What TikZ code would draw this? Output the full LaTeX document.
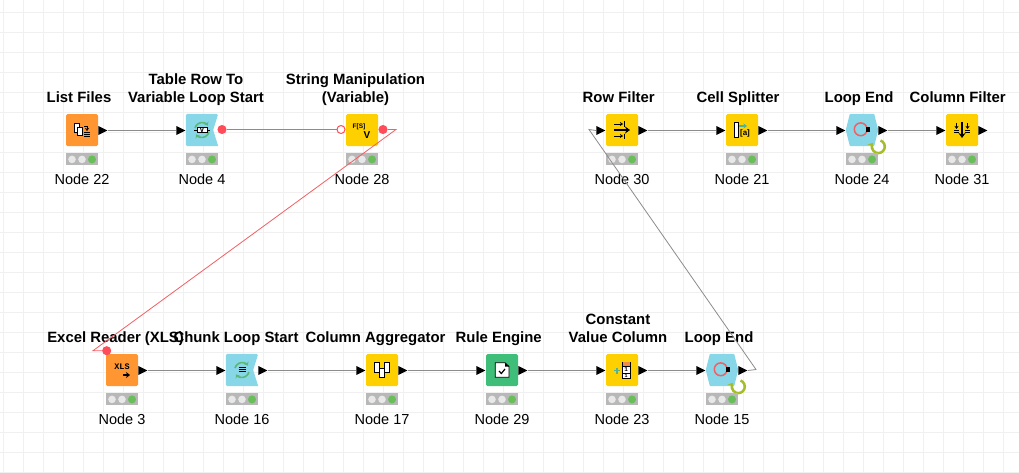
\documentclass[tikz,border=0pt]{standalone}
\usepackage{fontspec}
\setmainfont{Liberation Sans}
\setmonofont{Liberation Mono}
\usepackage{xcolor}
\usetikzlibrary{arrows.meta,positioning,shapes.geometric,calc}
\definecolor{sheet}{RGB}{240,240,240}
\definecolor{source}{RGB}{255,150,50}
\definecolor{manip}{RGB}{255,208,0}
\definecolor{loopblue}{RGB}{136,215,232}
\definecolor{rule}{RGB}{62,190,120}
\definecolor{lampgrey}{RGB}{184,184,184}
\definecolor{lampoff}{RGB}{232,232,232}
\definecolor{lampgreen}{RGB}{104,190,88}
\definecolor{flowvar}{RGB}{255,76,90}
\definecolor{flowline}{RGB}{240,96,100}
\definecolor{dataline}{RGB}{140,140,140}
\definecolor{teal}{RGB}{80,180,150}
\definecolor{spin}{RGB}{92,184,122}
\definecolor{redo}{RGB}{165,188,43}
\definecolor{headcell}{RGB}{240,140,70}

% traffic light, title and caption hung on a node body; #4 nudges the title
\newcommand{\furnish}[4]{%
  \node[nodetitle, above=11.3pt of #1, xshift=#4pt] (#1-title) {#2};
  \node[lights, below=7pt of #1] (#1-lights) {};
  \fill[lampoff] ([xshift=-10pt]#1-lights.center) circle (3.8pt) (#1-lights.center) circle (3.8pt);
  \fill[lampgreen] ([xshift=10pt]#1-lights.center) circle (4pt);
  \node[nodename, below=9pt of #1-lights] (#1-name) {#3};
}
% data ports
\newcommand{\inport}[1]{\node[porttip, anchor=apex] (#1-in) at ([yshift=-.5pt]#1.west) {};}
\newcommand{\outport}[1]{\node[porttip, anchor=lower side] (#1-out) at ([yshift=-.5pt]#1.east) {};}
% body outlines of the loop nodes
\newcommand{\loopstart}[1]{\fill[loopblue, rounded corners=1.5pt] (#1.north west) -- (#1.north east) [sharp corners] -- ([xshift=-5pt]#1.east) -- (#1.south east) [rounded corners=1.5pt] -- (#1.south west) -- cycle;}
\newcommand{\loopend}[1]{%
  \fill[loopblue, rounded corners=.8pt] (#1.west) -- ([xshift=4pt]#1.north west) -- ([xshift=-4pt]#1.north east) -- (#1.east) -- ([xshift=-4pt]#1.south east) -- ([xshift=4pt]#1.south west) -- cycle;
  \begin{scope}[shift={(#1)}]
    \draw[flowline, line width=1.5pt] (-1.3,-.7) circle (6.4pt);
    \fill[black] (3.8,-2.7) rectangle (8,1.5);
    \draw[redo, line width=2.5pt, -{Stealth[length=4.5pt,width=7pt]}] (18.5,10.5) arc[start angle=70, end angle=-215, radius=6.5pt];
  \end{scope}
}
\newcommand{\spinner}{%
  \draw[spin, line width=1.6pt, -{Stealth[length=3.5pt,width=5pt]}] (-7,-2) arc[start angle=165, end angle=35, radius=7.4pt];
  \draw[spin, line width=1.6pt, -{Stealth[length=3.5pt,width=5pt]}] (7,2) arc[start angle=-15, end angle=-145, radius=7.4pt];
}

\begin{document}
\begin{tikzpicture}[
  x=1pt, y=-1pt,
  font=\fontsize{14.5}{18}\selectfont,
  body/.style={rectangle, inner sep=0pt, minimum width=32pt, minimum height=32pt},
  solid/.style={body, fill=#1, rounded corners=1.5pt},
  nodetitle/.style={font=\fontsize{14.9}{18}\selectfont\bfseries, align=center, inner sep=0pt, text depth=0pt},
  nodename/.style={inner sep=0pt, text height=10pt, text depth=0pt},
  lights/.style={rectangle, fill=lampgrey, inner sep=0pt, minimum width=32pt, minimum height=12pt},
  porttip/.style={isosceles triangle, isosceles triangle stretches, fill=black, inner sep=0pt, minimum width=9pt, minimum height=9pt},
  varport/.style={circle, draw=flowvar, line width=1pt, inner sep=0pt, minimum size=8pt},
  dataflow/.style={dataline, line width=.8pt},
  varflow/.style={flowline, line width=.8pt},
  icon/.style={draw=black, fill=white, line width=.8pt},
  tinytext/.style={inner sep=0pt, font=\fontsize{#1}{#1}\selectfont\ttfamily\bfseries},
  tinysans/.style={inner sep=0pt, font=\fontsize{#1}{#1}\selectfont\bfseries},
  tip/.style={-{Stealth[length=3pt,width=4pt]}, line width=.8pt},
]
\useasboundingbox (0,0) rectangle (1019,472);
\fill[white] (0,0) rectangle (1019,472);
\draw[sheet, line width=1pt, shift={(3,12)}] (-3,-12) grid[step=20pt] (1016,460);

% upper row
\node[solid=source] (n22) at (82,130) {};
\node[body] (n4) at (202,130) {};
\loopstart{n4}
\node[solid=manip] (n28) at (362,130) {};
\node[solid=manip] (n30) at (622,130) {};
\node[solid=manip] (n21) at (742,130) {};
\node[body] (n24) at (862,130) {};
\loopend{n24}
\node[solid=manip] (n31) at (962,130) {};
% lower row
\node[solid=source] (n3) at (122,370) {};
\node[body] (n16) at (242,370) {};
\loopstart{n16}
\node[solid=manip] (n17) at (382,370) {};
\node[solid=rule] (n29) at (502,370) {};
\node[solid=manip] (n23) at (622,370) {};
\node[body] (n15) at (722,370) {};
\loopend{n15}

\furnish{n22}{List Files}{Node 22}{-3}
\furnish{n4}{Table Row To\\Variable Loop Start}{Node 4}{-6}
\furnish{n28}{String Manipulation\\(Variable)}{Node 28}{-6.5}
\furnish{n30}{Row Filter}{Node 30}{-3.3}
\furnish{n21}{Cell Splitter}{Node 21}{-4}
\furnish{n24}{Loop End}{Node 24}{-3}
\furnish{n31}{Column Filter}{Node 31}{-4.3}
\furnish{n3}{Excel Reader (XLS)}{Node 3}{-6.4}
\furnish{n16}{Chunk Loop Start}{Node 16}{-6}
\furnish{n17}{Column Aggregator}{Node 17}{-6.5}
\furnish{n29}{Rule Engine}{Node 29}{-3.3}
\furnish{n23}{Constant\\Value Column}{Node 23}{-4}
\furnish{n15}{Loop End}{Node 15}{-3}

% icons
\begin{scope}[shift={(n22)}]
  \draw[icon] (-7.5,-6.5) rectangle (-2.5,2);
  \draw[icon] (-5,-3) rectangle (0,5);
  \draw[tip] (2,-3.5) -- (5,-3.5) -- (5,1);
  \draw[line width=.7pt] (1.5,2.5) -- (8,2.5) (1.5,4.5) -- (8,4.5) (1.5,6.5) -- (8,6.5);
\end{scope}
\begin{scope}[shift={(n4)}]
  \spinner
  \draw[icon] (-5,-2.5) rectangle (5,2);
  \draw[line width=.8pt] (-8,0) -- (-5,0) (5,0) -- (8,0);
  \node[tinytext=7] (v4) at (0,-.3) {V};
\end{scope}
\begin{scope}[shift={(n28)}]
  \node[tinysans=6.5] (fs28) at (-3,-3.5) {F[S]};
  \node[tinysans=10] (v28) at (5,5) {V};
\end{scope}
\begin{scope}[shift={(n30)}]
  \draw[line width=1.2pt, -{Stealth[length=5pt,width=7pt]}] (-8,0) -- (8,0);
  \draw[tip] (-8,-6) -- (1,-6);
  \draw[line width=.8pt] (2.5,-9) -- (2.5,-3.5);
  \draw[tip] (-8,6) -- (1,6);
  \draw[line width=.8pt] (2.5,3.5) -- (2.5,8.5);
\end{scope}
\begin{scope}[shift={(n21)}]
  \draw[icon] (-8,-8) rectangle (-3.7,7.5);
  \draw[teal, line width=1.2pt, -{Stealth[length=3.5pt,width=5pt]}] (-3.5,-4) -- (5,-4);
  \node[tinysans=8] (a21) at (3,3.5) {[a]};
\end{scope}
\begin{scope}[shift={(n31)}]
  \draw[line width=1.2pt, -{Stealth[length=5pt,width=7pt]}] (0,-8) -- (0,8);
  \draw[tip] (-5.5,-7) -- (-5.5,-1);
  \draw[tip] (5.5,-7) -- (5.5,-1);
  \draw[line width=.8pt] (-8,0) -- (-3,0) (3,0) -- (8,0) (-8,2) -- (-3,2) (3,2) -- (8,2);
\end{scope}
\begin{scope}[shift={(n3)}]
  \node[tinytext=8.5] (xls3) at (0,-3.5) {XLS};
  \draw[line width=1.3pt, -{Stealth[length=4pt,width=6pt]}] (1,5) -- (8,5);
\end{scope}
\begin{scope}[shift={(n16)}]
  \spinner
  \draw[line width=.8pt] (-3.5,-2.5) -- (3.5,-2.5) (-3.5,-.5) -- (3.5,-.5) (-3.5,1.5) -- (3.5,1.5);
\end{scope}
\begin{scope}[shift={(n17)}]
  \draw[icon] (-7.5,-7.3) rectangle (-2.5,2.3);
  \draw[icon] (2.5,-7.3) rectangle (7.5,2.3);
  \draw[icon] (-2.5,-2) rectangle (2.5,7.3);
\end{scope}
\begin{scope}[shift={(n29)}]
  \draw[icon] (-6.7,-7.3) -- (3,-7.3) -- (7,-3.5) -- (7,7.3) -- (-6.7,7.3) -- cycle;
  \fill[black] (3,-7.3) -- (7,-3.5) -- (3,-3.5) -- cycle;
  \draw[line width=1.2pt] (-3,1) -- (-.7,3.5) -- (3,-1);
\end{scope}
\begin{scope}[shift={(n23)}]
  \draw[teal, line width=1.2pt] (-8,.5) -- (-2,.5) (-5,-2.5) -- (-5,3.5);
  \draw[icon] (.3,-8) rectangle (8,8);
  \fill[headcell] (.7,-7.6) rectangle (7.6,-4);
  \draw[line width=.8pt] (.3,-4) -- (8,-4) (.3,3.3) -- (8,3.3);
  \node[tinytext=6] (c23) at (4.2,-.3) {1};
  \node[tinytext=5] (d23) at (4.2,5.8) {1};
\end{scope}

% ports
\outport{n22}
\inport{n4}
\node[varport, fill=flowvar] (n4-var) at (222,129.5) {};
\node[varport, fill=white] (n28-varin) at (341,129.5) {};
\node[varport, fill=flowvar] (n28-var) at (383,129.5) {};
\inport{n30}
\outport{n30}
\inport{n21}
\outport{n21}
\inport{n24}
\outport{n24}
\inport{n31}
\outport{n31}
\node[varport, fill=flowvar] (n3-var) at (106.7,350.7) {};
\outport{n3}
\inport{n16}
\outport{n16}
\inport{n17}
\outport{n17}
\inport{n29}
\outport{n29}
\inport{n23}
\outport{n23}
\inport{n15}
\outport{n15}

% free bends of the two long connections
\coordinate (bendA) at (396,129.5);
\coordinate (bendB) at (93,350.7);
\coordinate (bendC) at (756,369.5);
\coordinate (bendD) at (589,129.5);

\draw[dataflow] (n22-out.apex) -- (n4-in.lower side);
\draw[varflow] (n4-var.east) -- (n28-varin.west);
\draw[varflow] (n28-var.east) -- (bendA) -- (bendB) -- (n3-var.west);
\draw[dataflow] (n30-out.apex) -- (n21-in.lower side);
\draw[dataflow] (n21-out.apex) -- (n24-in.lower side);
\draw[dataflow] (n24-out.apex) -- (n31-in.lower side);
\draw[dataflow] (n3-out.apex) -- (n16-in.lower side);
\draw[dataflow] (n16-out.apex) -- (n17-in.lower side);
\draw[dataflow] (n17-out.apex) -- (n29-in.lower side);
\draw[dataflow] (n29-out.apex) -- (n23-in.lower side);
\draw[dataflow] (n23-out.apex) -- (n15-in.lower side);
\draw[dataflow] (n15-out.apex) -- (bendC) -- (bendD) -- (n30-in.lower side);
\end{tikzpicture}
\end{document}
